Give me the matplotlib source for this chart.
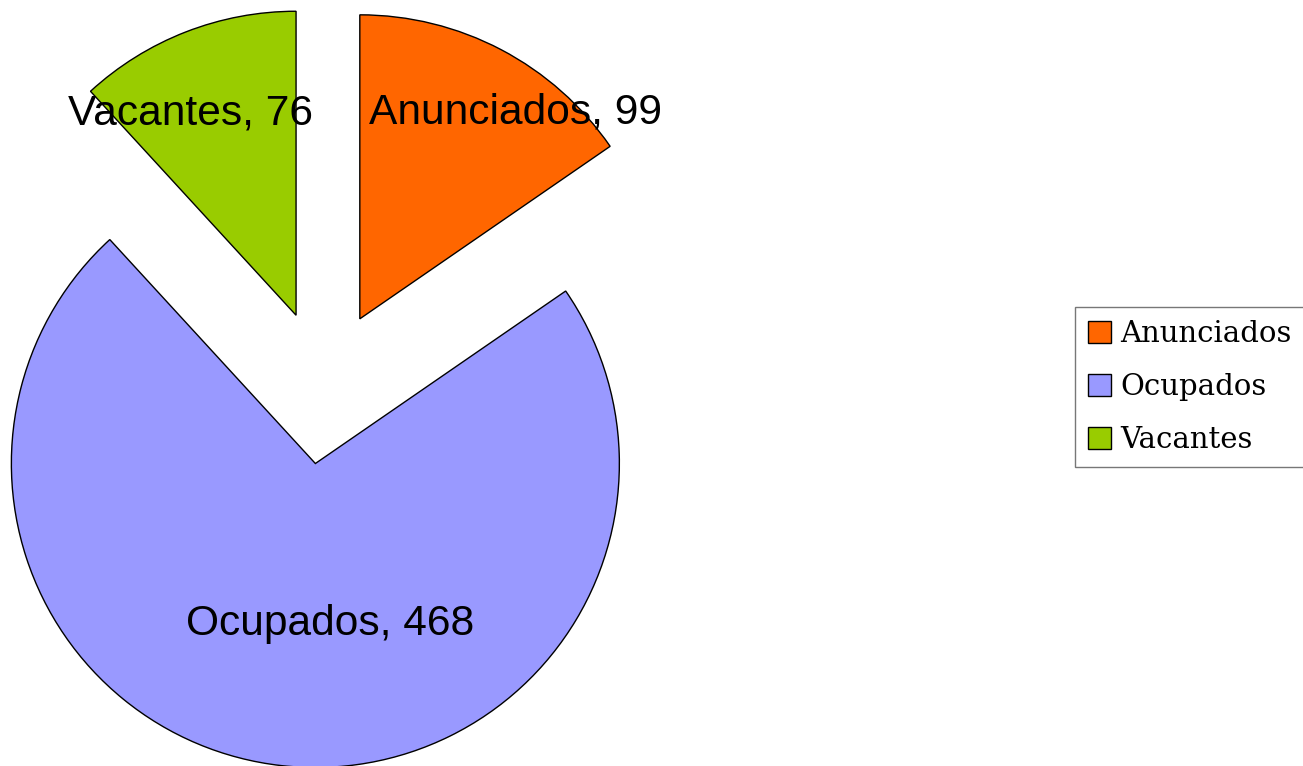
import matplotlib.pyplot as plt
import numpy as np

# data
labels = ["Anunciados", "Ocupados", "Vacantes"]
values = [99, 468, 76]
colors = ["#FF6600", "#9999FF", "#99CC00"]

# label placement per wedge: (angle shift in deg, distance as fraction of radius)
lbl_shift = [(-9.3, 0.85), (11.6, 0.53), (6.4, 0.75)]

fig = plt.figure(figsize=(13.03, 7.66), dpi=100)
ax = fig.add_axes([0, 0, 1, 1])

R = 304
wedges, _ = ax.pie(values, colors=colors, startangle=90, counterclock=False,
                   explode=[77] * 3, radius=R, center=(324, 379),
                   wedgeprops=dict(edgecolor="black", linewidth=1.0),
                   frame=True)
ax.set_xlim(0, 1303)
ax.set_ylim(0, 766)
ax.set_aspect("equal")
ax.axis("off")

for w, name, v, (da, dist) in zip(wedges, labels, values, lbl_shift):
    mid = np.deg2rad((w.theta1 + w.theta2) / 2 + da)
    cx, cy = w.center
    ax.text(cx + dist * w.r * np.cos(mid), cy + dist * w.r * np.sin(mid),
            f"{name}, {v}", ha="center", va="center",
            fontsize=30.6, family="Liberation Sans", color="black")

leg = fig.legend(wedges, labels, loc="upper left", bbox_to_anchor=(0.825, 0.599),
                 borderaxespad=0, fancybox=False, edgecolor="#555555",
                 handlelength=0.8, handleheight=0.8, handletextpad=0.3,
                 labelspacing=0.85, borderpad=0.45,
                 prop=dict(family="DejaVu Serif", size=21))
leg.get_frame().set_linewidth(1.0)

fig.savefig("out.png", dpi=100)
